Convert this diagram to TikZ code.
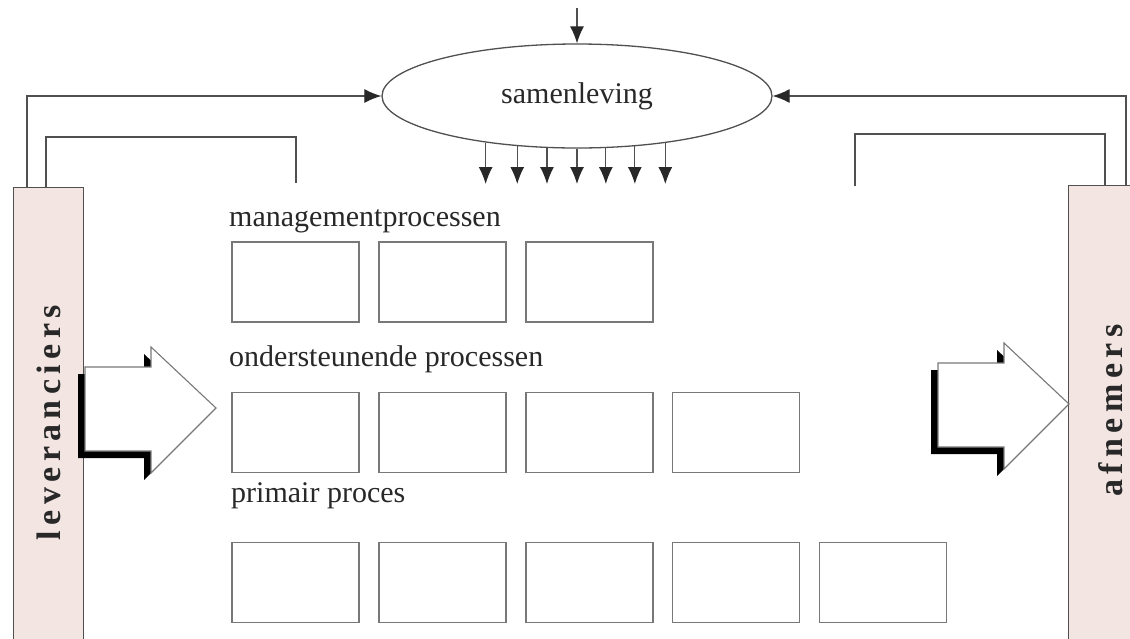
\documentclass[tikz,border=0pt]{standalone}
\usepackage{fontspec}
\setmainfont{Liberation Serif}
\newfontfamily\balkfont[LetterSpace=16]{Liberation Serif}
\usetikzlibrary{shapes.geometric, positioning, arrows.meta}
\definecolor{lijnGrijs}{RGB}{80,80,80}
\definecolor{boxGrijs}{RGB}{120,120,120}
\definecolor{balkRoze}{RGB}{242,229,226}
\definecolor{tekstGrijs}{RGB}{40,40,40}

\tikzset{
  procesbox/.style={draw=boxGrijs, line width=1.4pt, minimum width=127pt, minimum height=80pt, inner sep=0pt},
  balk/.style={draw=lijnGrijs, fill=balkRoze, line width=1.3pt, inner sep=0pt},
  kop/.style={anchor=base west, inner sep=0pt, text=tekstGrijs, font=\fontsize{30}{36}\selectfont},
  balktekst/.style={rotate=90, inner sep=0pt, text=tekstGrijs, font=\balkfont\bfseries\fontsize{34}{40}\selectfont},
  verbinding/.style={draw=lijnGrijs, line width=1.2pt},
  pijl/.style={verbinding, -{Latex[length=17pt,width=14pt,color=tekstGrijs]}},
  blokpijl/.pic={
    \fill[black, xshift=-7pt, yshift=-7pt] (0,0) -- (66,0) -- (66,-20) -- (131,41) -- (66,106) -- (66,84) -- (0,84) -- cycle;
    \filldraw[fill=white, draw=boxGrijs, line width=1.1pt] (0,0) -- (66,0) -- (66,-20) -- (131,41) -- (66,106) -- (66,84) -- (0,84) -- cycle;
  }
}

\begin{document}
\begin{tikzpicture}[x=1pt, y=-1pt]
        \useasboundingbox (0,0) rectangle (1130,638);
        \clip (0,0) rectangle (1130,638);

        % De balken links en rechts
        \node[balk, minimum width=70pt, minimum height=470pt, anchor=north west] (lev) at (13,187) {};
        \node[balk, minimum width=84pt, minimum height=470pt, anchor=north west] (afn) at (1068,185) {};
        \node[balktekst] (levtekst) at (lev.center) {leveranciers};
        \node[balktekst] (afntekst) at ([yshift=10pt]afn.center) {afnemers};

        % De samenleving
        \node[draw=lijnGrijs, line width=1.3pt, ellipse, minimum width=390pt, minimum height=104pt,
              text=tekstGrijs, font=\fontsize{30}{36}\selectfont] (sam) at (577,96) {samenleving};
        \coordinate (boven) at (577,8);
        \draw[pijl] (boven) -- (sam.north);

        % Pijlen naar beneden
        \coordinate (pijlrij) at (0,184);
        \foreach \h in {207.8,220.2,240.3,270,299.7,319.8,332.2}
            \draw[pijl] (sam.\h) -- (sam.\h |- pijlrij);

        % Lijnen vanuit de balken
        \draw[pijl] ([xshift=14pt]lev.north west) |- (sam.west);
        \coordinate (levEind) at (296,183);
        \draw[verbinding] ([xshift=33pt]lev.north west) -- ++(0,-50) -| (levEind);
        \draw[pijl] ([xshift=58pt]afn.north west) |- (sam.east);
        \coordinate (afnEind) at (855,186);
        \draw[verbinding] ([xshift=37pt]afn.north west) -- ++(0,-51) -| (afnEind);

        % Koppen
        \node[kop] (mgmt) at (229,226) {managementprocessen};
        \node[kop] (onder) at (229,366) {ondersteunende processen};
        \node[kop] (prim) at (231,502) {primair proces};

        % Managementprocessen
        \node[procesbox] (m1) at (295.5,282) {};
        \node[procesbox, right=18.5pt of m1] (m2) {};
        \node[procesbox, right=18.5pt of m2] (m3) {};

        % Ondersteunende processen
        \node[procesbox] (o1) at (295.5,432.5) {};
        \node[procesbox, right=18.5pt of o1] (o2) {};
        \node[procesbox, right=18.5pt of o2] (o3) {};
        \node[procesbox, right=18.5pt of o3] (o4) {};

        % Primair proces
        \node[procesbox] (p1) at (295.5,582.5) {};
        \node[procesbox, right=18.5pt of p1] (p2) {};
        \node[procesbox, right=18.5pt of p2] (p3) {};
        \node[procesbox, right=18.5pt of p3] (p4) {};
        \node[procesbox, right=18.5pt of p4] (p5) {};

        % Blokpijlen
        \pic at (85,367) {blokpijl};
        \pic at (938,363) {blokpijl};
\end{tikzpicture}
\end{document}
